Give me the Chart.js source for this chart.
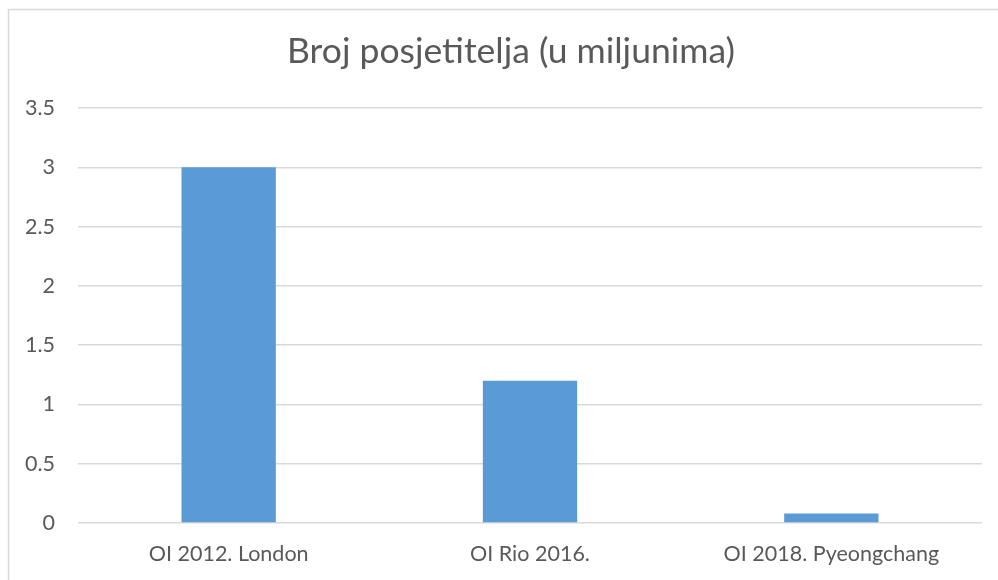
<!DOCTYPE html>
<html>

<head>
  <title>Broj posjetitelja</title>
  <script src="https://cdn.jsdelivr.net/npm/chart.js"></script>
  <style type="text/css">
    body {
      margin: 0;
      background: #ffffff;
    }

    .chart-box {
      position: relative;
      width: 998px;
      height: 580px;
    }
  </style>
</head>

<body>
  <div class="chart-box">
    <canvas id="myChart"></canvas>
  </div>

  <script>
    const categories = ['OI 2012. London', 'OI Rio 2016.', 'OI 2018. Pyeongchang'];
    const visitors = [3, 1.2, 0.08];
    const yTicks = [0, 0.5, 1, 1.5, 2, 2.5, 3, 3.5];
    const titleText = 'Broj posjetitelja (u miljunima)';

    const textColor = '#595959';
    const gridColor = '#D9D9D9';
    const fontName = 'Lato';

    // okvir oko grafikona (ide preko desnog i donjeg ruba slike) + naslov
    // naslov je centriran na cijeli okvir, ne na platno, pa ga crtamo sami
    const frame = {
      id: 'frame',
      beforeDraw(chart) {
        const c = chart.ctx;
        c.save();
        c.fillStyle = '#ffffff';
        c.fillRect(0, 0, chart.width, chart.height);
        c.strokeStyle = gridColor;
        c.lineWidth = 1.5;
        c.strokeRect(8.5, 9.5, 1200, 1200);
        c.restore();
      },
      afterDraw(chart) {
        const c = chart.ctx;
        c.save();
        c.fillStyle = textColor;
        c.font = '35.5px ' + fontName;
        c.textAlign = 'center';
        c.textBaseline = 'middle';
        c.fillText(titleText, 511, 52);
        c.restore();
      }
    };

    var ctx = document.getElementById('myChart').getContext('2d');
    var myChart = new Chart(ctx, {
      type: 'bar',
      data: {
        labels: categories,
        datasets: [{
          label: 'Broj posjetitelja',
          data: visitors,
          backgroundColor: '#5B9BD5',
          barPercentage: 0.313,
          categoryPercentage: 1
        }]
      },
      options: {
        responsive: true,
        maintainAspectRatio: false,
        animation: false,
        layout: {
          padding: { left: 0, right: 16, top: 108, bottom: 0 }
        },
        plugins: {
          legend: { display: false },
          tooltip: { enabled: false },
          title: { display: false }
        },
        scales: {
          x: {
            afterFit(scale) { scale.height = 57; },
            grid: { display: false, drawTicks: false },
            border: { display: false },
            ticks: {
              color: textColor,
              font: { family: fontName, size: 21.5 },
              padding: 18,
              maxRotation: 0
            }
          },
          y: {
            min: 0,
            max: 3.5,
            afterFit(scale) { scale.width = 78; },
            afterBuildTicks(scale) {
              scale.ticks = yTicks.map(v => ({ value: v }));
            },
            grid: { color: gridColor, lineWidth: 1.5, drawTicks: false },
            border: { display: false },
            ticks: {
              color: textColor,
              font: { family: fontName, size: 21.5 },
              padding: 23,
              callback: v => String(v)
            }
          }
        }
      },
      plugins: [frame]
    });
  </script>
</body>

</html>
